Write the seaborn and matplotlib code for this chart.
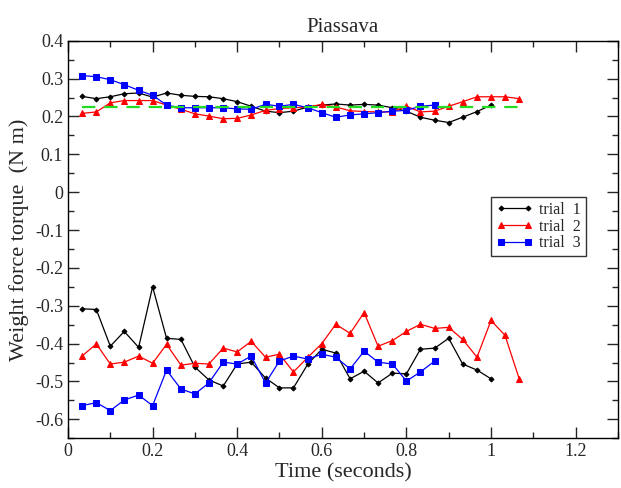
import pandas as pd
import seaborn as sns
import matplotlib.pyplot as plt
from matplotlib.ticker import MultipleLocator

# frame times (s), 30 fps
time = [0.033, 0.067, 0.100, 0.133, 0.167, 0.200, 0.233, 0.267, 0.300, 0.333,
        0.367, 0.400, 0.433, 0.467, 0.500, 0.533, 0.567, 0.600, 0.633, 0.667,
        0.700, 0.733, 0.767, 0.800, 0.833, 0.867, 0.900, 0.933, 0.967, 1.000,
        1.033, 1.067]

trial1_upper = [0.253, 0.247, 0.252, 0.260, 0.262, 0.251, 0.262, 0.256, 0.253, 0.252,
                0.247, 0.239, 0.227, 0.214, 0.210, 0.214, 0.225, 0.230, 0.233, 0.230,
                0.232, 0.230, 0.223, 0.214, 0.198, 0.190, 0.184, 0.198, 0.213, 0.230]
trial2_upper = [0.208, 0.212, 0.236, 0.242, 0.242, 0.242, 0.230, 0.219, 0.207, 0.201,
                0.194, 0.195, 0.204, 0.216, 0.221, 0.223, 0.225, 0.232, 0.225, 0.215,
                0.213, 0.212, 0.212, 0.227, 0.212, 0.214, 0.227, 0.239, 0.252, 0.252,
                0.252, 0.247]
trial3_upper = [0.308, 0.305, 0.297, 0.284, 0.269, 0.256, 0.230, 0.223, 0.223, 0.223,
                0.223, 0.220, 0.219, 0.232, 0.227, 0.232, 0.223, 0.210, 0.198, 0.204,
                0.207, 0.210, 0.214, 0.216, 0.227, 0.230]

trial1_lower = [-0.308, -0.310, -0.407, -0.368, -0.410, -0.250, -0.386, -0.389, -0.462, -0.496,
                -0.512, -0.454, -0.449, -0.491, -0.517, -0.517, -0.454, -0.415, -0.425, -0.493,
                -0.473, -0.504, -0.478, -0.480, -0.415, -0.412, -0.386, -0.454, -0.470, -0.493]
trial2_lower = [-0.433, -0.401, -0.454, -0.449, -0.433, -0.452, -0.402, -0.457, -0.452, -0.454,
                -0.412, -0.422, -0.394, -0.436, -0.428, -0.475, -0.436, -0.400, -0.349, -0.373,
                -0.318, -0.407, -0.392, -0.368, -0.349, -0.360, -0.357, -0.389, -0.436, -0.339,
                -0.378, -0.494]
trial3_lower = [-0.564, -0.556, -0.577, -0.549, -0.536, -0.564, -0.470, -0.520, -0.533, -0.504,
                -0.449, -0.454, -0.433, -0.504, -0.446, -0.433, -0.441, -0.428, -0.436, -0.467,
                -0.420, -0.449, -0.454, -0.499, -0.475, -0.446]

mean_level = 0.226
mean_span = [0.033, 1.067]

trials = {
    "trial  1": (trial1_upper, trial1_lower, "black", "D", 2.5),
    "trial  2": (trial2_upper, trial2_lower, "red", "^", 5),
    "trial  3": (trial3_upper, trial3_lower, "blue", "s", 4),
}

sns.set_style("ticks")
plt.rcParams["font.family"] = ["Liberation Serif", "DejaVu Serif"]

fig = plt.figure(figsize=(6.21, 4.88), dpi=100)
ax = fig.add_axes([0.1095, 0.102, 0.8855, 0.8145])

for name, (up, low, color, marker, ms) in trials.items():
    for seg, vals in (("upper", up), ("lower", low)):
        df = pd.DataFrame({"time": time[:len(vals)], "torque": vals})
        sns.lineplot(data=df, x="time", y="torque", ax=ax, color=color,
                     marker=marker, markersize=ms, markeredgecolor=color,
                     linewidth=0.9, sort=False, estimator=None,
                     label=name if seg == "upper" else None)

mean_df = pd.DataFrame({"time": mean_span, "torque": [mean_level, mean_level]})
sns.lineplot(data=mean_df, x="time", y="torque", ax=ax, color="#22dd22",
             linewidth=1.6, dashes=False, linestyle=(0, (6, 4)), estimator=None)

ax.set_xlim(0, 1.3)
ax.set_ylim(-0.65, 0.4)
ax.xaxis.set_major_locator(MultipleLocator(0.2))
ax.xaxis.set_minor_locator(MultipleLocator(0.1))
ax.yaxis.set_major_locator(MultipleLocator(0.1))
ax.yaxis.set_minor_locator(MultipleLocator(0.05))
ax.set_xticks([0, 0.2, 0.4, 0.6, 0.8, 1.0, 1.2])
ax.set_xticklabels(["0", "0.2", "0.4", "0.6", "0.8", "1", "1.2"])
yt = [0.4, 0.3, 0.2, 0.1, 0, -0.1, -0.2, -0.3, -0.4, -0.5, -0.6]
ax.set_yticks(yt)
ax.set_yticklabels(["0" if v == 0 else f"{v:g}" for v in yt])
ax.tick_params(which="both", direction="in", top=True, right=True, labelsize=13)
ax.tick_params(which="major", length=8, width=1)
ax.tick_params(which="minor", length=4, width=1)
for sp in ax.spines.values():
    sp.set_linewidth(1)
    sp.set_color("black")

ax.set_title("Piassava", fontsize=15, pad=6)
ax.set_xlabel("Time (seconds)", fontsize=16, labelpad=2)
ax.set_ylabel("Weight force torque  (N m)", fontsize=16, labelpad=4)

leg = ax.legend(loc="upper left", bbox_to_anchor=(0.77, 0.607), fontsize=11.5,
                frameon=True, fancybox=False, edgecolor="black", numpoints=2,
                handlelength=2.3, borderpad=0.3, labelspacing=0.05,
                handletextpad=0.4, borderaxespad=0)
leg.get_frame().set_linewidth(1)

fig.savefig("out.png", dpi=100)
